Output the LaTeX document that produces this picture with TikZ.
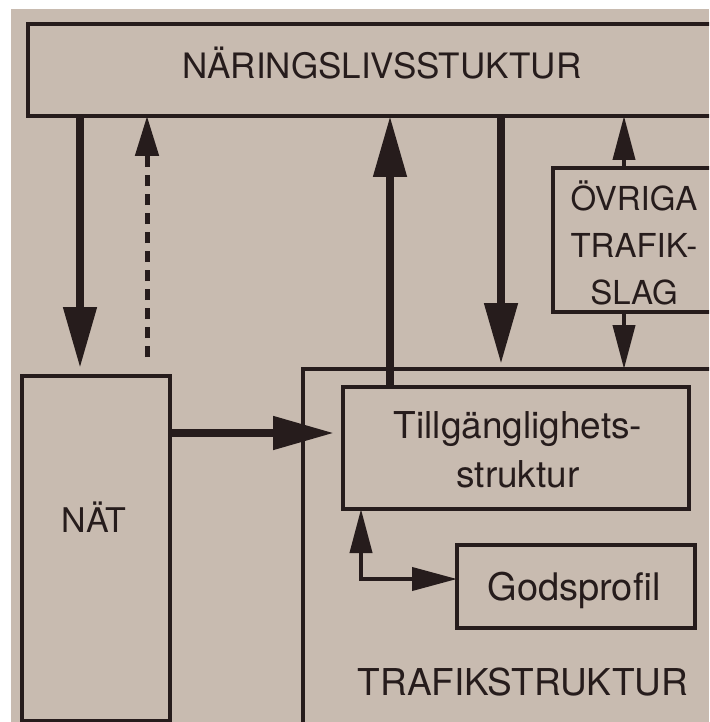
\documentclass[tikz,border=0pt]{standalone}
\usepackage{fontspec}
\setmainfont{TeX Gyre Heros}
\usetikzlibrary{arrows.meta,calc}
\definecolor{paper}{RGB}{200,187,176}
\definecolor{ink}{RGB}{38,28,28}
\begin{document}
\begin{tikzpicture}[x=1pt,y=-1pt,
  box/.style={draw=ink,line width=4pt,anchor=north west,inner sep=0pt,outer sep=0pt},
  lbl/.style={text=ink,inner sep=0pt,align=center,anchor=base},
  bigarrow/.style={-{Triangle[length=61pt,width=32pt]},line width=8pt,draw=ink},
  thinarrow/.style={-{Triangle[length=44pt,width=22pt]},line width=4pt,draw=ink},
  dasharrow/.style={-{Triangle[length=40pt,width=23pt]},line width=5pt,draw=ink,dash pattern=on 11pt off 8pt},
  bothtips/.style={{Triangle[length=44pt,width=22pt]}-{Triangle[length=45pt,width=23pt]},line width=4pt,draw=ink},
]
\useasboundingbox (0,0) rectangle (709,722);
\clip (0,0) rectangle (709,722);
\fill[white] (0,0) rectangle (709,722);
\fill[paper] (11,9) rectangle (709,722);

% boxes
\node[box,minimum width=720pt,minimum height=92pt] (top) at (28,24) {};
\node[box,minimum width=148pt,minimum height=345pt] (nat) at (22,376) {};
\node[box,minimum width=420pt,minimum height=370pt] (trafik) at (303,369) {};
\node[box,minimum width=346pt,minimum height=122pt] (tillg) at (343,387) {};
\node[box,minimum width=200pt,minimum height=144pt] (ovr) at (553,168) {};
\node[box,minimum width=238pt,minimum height=83pt] (gods) at (457,545) {};

% labels (base = baseline of the last line)
\node[lbl,font=\fontsize{35}{40}\selectfont] (tN) at (382,79) {NÄRINGSLIVSSTUKTUR};
\node[lbl,font=\fontsize{34}{40}\selectfont] (tNat) at (94,532) {NÄT};
\node[lbl,font=\fontsize{37}{49}\selectfont] (tTillg) at (518,487) {Tillgänglighets-\\struktur};
\node[lbl,font=\fontsize{38}{44}\selectfont] (tGods) at (574,600) {Godsprofil};
\node[lbl,font=\fontsize{33}{47}\selectfont] (tOvr) at (634,304) {ÖVRIGA\\TRAFIK-\\SLAG};
\node[lbl,font=\fontsize{37}{42}\selectfont] (tTraf) at (523,695) {TRAFIKSTRUKTUR};

% x / y positions of connectors
\coordinate (xA) at (80,0);
\coordinate (xB) at (147,0);
\coordinate (xC) at (390,0);
\coordinate (xD) at (501,0);
\coordinate (xE) at (624,0);
\coordinate (xG) at (361,0);
\coordinate (yF) at (0,433);
\coordinate (yG) at (0,579);

% connectors
\draw[bigarrow,shorten >=8pt] (top.south -| xA) -- (nat.north -| xA);
\draw[dasharrow,shorten <=19pt] (nat.north -| xB) -- (top.south -| xB);
\draw[bigarrow] (tillg.north -| xC) -- (top.south -| xC);
\draw[bigarrow,shorten >=5pt] (top.south -| xD) -- (trafik.north -| xD);
\draw[thinarrow] (ovr.north -| xE) -- (top.south -| xE);
\draw[thinarrow] (ovr.south -| xE) -- (trafik.north -| xE);
\draw[bigarrow,shorten >=9pt] (nat.east |- yF) -- (tillg.west |- yF);
\draw[bothtips] (tillg.south -| xG) |- (gods.west |- yG);
\end{tikzpicture}
\end{document}
